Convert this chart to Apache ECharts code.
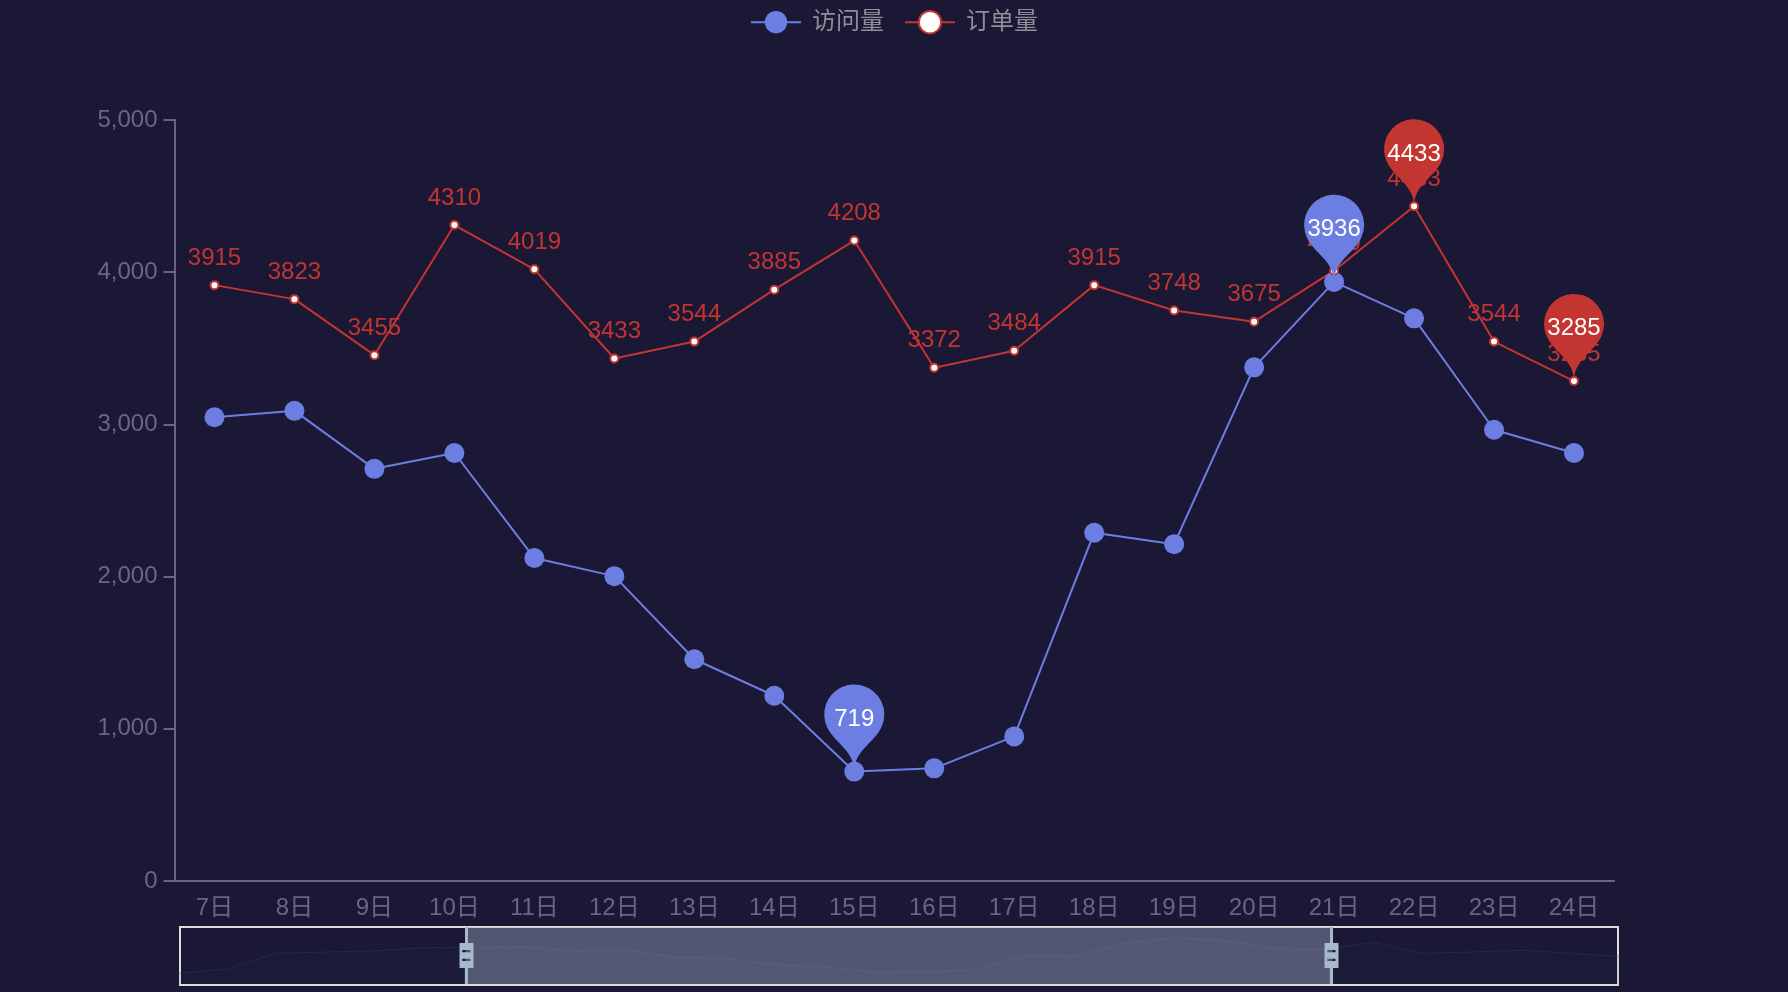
<!DOCTYPE html>
<html><head><meta charset="utf-8">
<style>html,body{margin:0;padding:0;background:#1a1835}#c{width:1788px;height:992px}</style>
<script src="https://cdn.jsdelivr.net/npm/echarts@6/dist/echarts.min.js"></script>
</head><body><div id="c"></div>
<script>
const days = ['1日','2日','3日','4日','5日','6日','7日','8日','9日','10日','11日','12日','13日','14日','15日','16日','17日','18日','19日','20日','21日','22日','23日','24日','25日','26日','27日','28日','29日','30日'];
const visits = [610,1000,2480,2600,2710,3010,3047,3089,2708,2812,2122,2003,1457,1217,719,740,950,2288,2213,3375,3936,3697,2965,2812,3515,2480,2600,2770,2480,2180];
const orders = [null,null,null,null,null,null,3915,3823,3455,4310,4019,3433,3544,3885,4208,3372,3484,3915,3748,3675,4010,4433,3544,3285,null,null,null,null,null,null];
const yTicks = {min:0,max:5000,interval:1000};
const BLUE='#6d7ee3', RED='#c23531', AXIS='#6c6488';
const font='"Liberation Sans","Noto Sans CJK SC",sans-serif';
const handle='M8.2,13.6V3.9H6.3v9.7H3.1v14.9h3.3v9.7h1.8v-9.7h3.3V13.6H8.2z M9.7,24.4H4.8v-1.4h4.9V24.4z M9.7,19.1H4.8v-1.4h4.9V19.1z';
const chart=echarts.init(document.getElementById('c'),null,{renderer:'canvas'});
const pin=(c)=>({symbol:'pin',symbolSize:100,itemStyle:{color:c},label:{color:'#fff',fontSize:24,fontFamily:font},data:[{type:'max'},{type:'min'}]});
chart.setOption({
 animation:false,
 backgroundColor:'#1a1835',
 textStyle:{fontFamily:font},
 legend:{top:5,left:'center',itemWidth:50,itemHeight:28,itemGap:20,textStyle:{color:'#8f8d99',fontSize:24,fontFamily:font,padding:[0,0,0,6]},data:['访问量','订单量']},
 grid:{left:174.5,right:174,top:120,bottom:111},
 xAxis:{type:'category',data:days,boundaryGap:true,axisTick:{show:false},axisLine:{lineStyle:{color:AXIS,width:2}},axisLabel:{color:AXIS,fontSize:24,fontFamily:font,margin:15}},
 yAxis:{type:'value',min:yTicks.min,max:yTicks.max,interval:yTicks.interval,splitLine:{show:false},axisLine:{show:true,lineStyle:{color:AXIS,width:2}},axisTick:{show:true,length:11,lineStyle:{color:AXIS,width:2}},axisLabel:{color:AXIS,fontSize:24,fontFamily:font,margin:17}},
 graphic:[{type:'rect',z:0,silent:true,left:179,top:926,shape:{width:1438,height:58},style:{fill:'transparent',stroke:'#ddd',lineWidth:2}}],
 dataZoom:[{type:'slider',xAxisIndex:0,start:20,end:80,left:174,right:169,top:927,height:57,filterMode:'filter',brushSelect:false,moveHandleSize:0,showDetail:false,
   borderColor:'transparent',borderRadius:0,backgroundColor:'rgba(47,69,84,0)',fillerColor:'rgba(167,183,204,0.4)',
   handleIcon:handle,handleSize:'100%',handleStyle:{color:'#a7b7cc',borderColor:'#a7b7cc',borderWidth:0,opacity:1},
   dataBackground:{lineStyle:{color:'#2f4554',width:1,opacity:0.4},areaStyle:{color:'#2f4554',opacity:0.08}},
   selectedDataBackground:{lineStyle:{color:'#2f4554',width:1,opacity:0.4},areaStyle:{color:'#2f4554',opacity:0.08}}}],
 series:[
  {name:'访问量',type:'line',data:visits,symbol:'circle',symbolSize:20,itemStyle:{color:BLUE},lineStyle:{color:BLUE,width:2},markPoint:pin(BLUE)},
  {name:'订单量',type:'line',data:orders,symbol:'circle',symbolSize:8,connectNulls:false,itemStyle:{color:'#fff',borderColor:RED,borderWidth:2},lineStyle:{color:RED,width:2},
   label:{show:true,position:'top',color:RED,fontSize:24,fontFamily:font,distance:10},markPoint:pin(RED)}
 ]
});
</script></body></html>
